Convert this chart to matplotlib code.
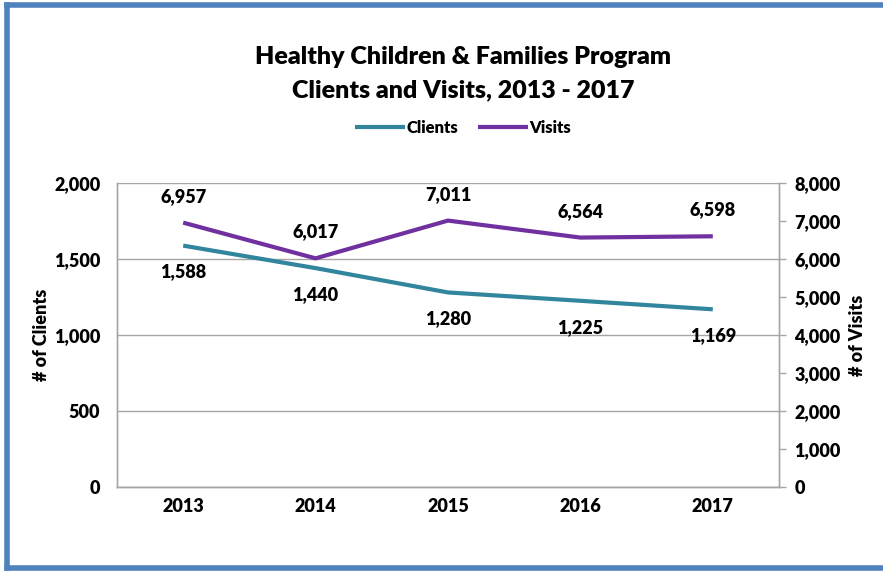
import matplotlib
matplotlib.use("Agg")
import matplotlib.pyplot as plt
from matplotlib.lines import Line2D
from matplotlib.ticker import FuncFormatter, MultipleLocator

# ---------------- DATA ----------------
years = ["2013", "2014", "2015", "2016", "2017"]
clients = [1588, 1440, 1280, 1225, 1169]
visits = [6957, 6017, 7011, 6564, 6598]

teal = "#31859C"
purple = "#7030A0"
grid_gray = "#A6A6A6"
W = "heavy"

plt.rcParams["font.family"] = ["Lato", "DejaVu Sans"]
plt.rcParams["font.weight"] = W
plt.rcParams["axes.labelweight"] = W

fig = plt.figure(figsize=(8.83, 5.73), dpi=100)
ax = fig.add_axes([117 / 883, 1 - 487 / 573, (779 - 117) / 883, (487 - 183) / 573])
ax2 = ax.twinx()

x = list(range(len(years)))

ax.plot(x, clients, color=teal, lw=3, solid_capstyle="butt", label="Clients", zorder=3)
ax2.plot(x, visits, color=purple, lw=3, solid_capstyle="butt", label="Visits", zorder=3)

thousands = FuncFormatter(lambda v, p: f"{int(v):,}")

# left axis
ax.set_xlim(-0.5, len(years) - 0.5)
ax.set_ylim(0, 2000)
ax.yaxis.set_major_locator(MultipleLocator(500))
ax.yaxis.set_major_formatter(thousands)
ax.grid(axis="y", color=grid_gray, lw=1)
ax.set_axisbelow(True)
ax.set_xticks(x)
ax.set_xticklabels(years)
ax.tick_params(axis="both", length=0, labelsize=13, pad=8)
ax.tick_params(axis="y", pad=12)
ax.set_ylabel("# of Clients", fontsize=13, fontweight=W, labelpad=3)

# right axis
ax2.set_ylim(0, 8000)
ax2.yaxis.set_major_locator(MultipleLocator(1000))
ax2.yaxis.set_major_formatter(thousands)
ax2.tick_params(axis="y", length=5, width=1, color=grid_gray, direction="out",
                labelsize=13, pad=6)
ax2.set_ylabel("# of Visits", fontsize=13, fontweight=W, labelpad=6,
               rotation=90)

for a in (ax, ax2):
    for side in ("left", "right", "bottom"):
        a.spines[side].set_color(grid_gray)
        a.spines[side].set_linewidth(1)
    a.spines["top"].set_visible(False)

# data labels
for xi, v in zip(x, clients):
    ax.annotate(f"{v:,}", (xi, v), xytext=(0, -19), textcoords="offset points",
                ha="center", va="center", fontsize=13, fontweight=W)
for xi, v in zip(x, visits):
    ax2.annotate(f"{v:,}", (xi, v), xytext=(0, 19), textcoords="offset points",
                 ha="center", va="center", fontsize=13, fontweight=W)

# title and legend
fig.text(463 / 883, 1 - 57 / 573, "Healthy Children & Families Program",
         ha="center", va="center", fontsize=18, fontweight=W)
fig.text(463 / 883, 1 - 90 / 573, "Clients and Visits, 2013 - 2017",
         ha="center", va="center", fontsize=18, fontweight=W)

h1, l1 = ax.get_legend_handles_labels()
h2, l2 = ax2.get_legend_handles_labels()
fig.legend(h1 + h2, l1 + l2, loc="center", bbox_to_anchor=(463 / 883, 1 - 128 / 573),
           ncol=2, frameon=False, handlelength=3, handletextpad=0.1,
           columnspacing=1.2, prop={"weight": W, "size": 12})

# blue frame (left, top, bottom; right side runs off the picture)
x0, y0, y1 = 7 / 883, 5 / 573, 1 - 5 / 573
frame = dict(color="#4F81BD", lw=4, transform=fig.transFigure, clip_on=False)
fig.add_artist(Line2D([x0, x0], [y0, y1], **frame))
fig.add_artist(Line2D([x0, 1.05], [y1, y1], **frame))
fig.add_artist(Line2D([x0, 1.05], [y0, y0], **frame))

fig.savefig("out.png", dpi=100)
